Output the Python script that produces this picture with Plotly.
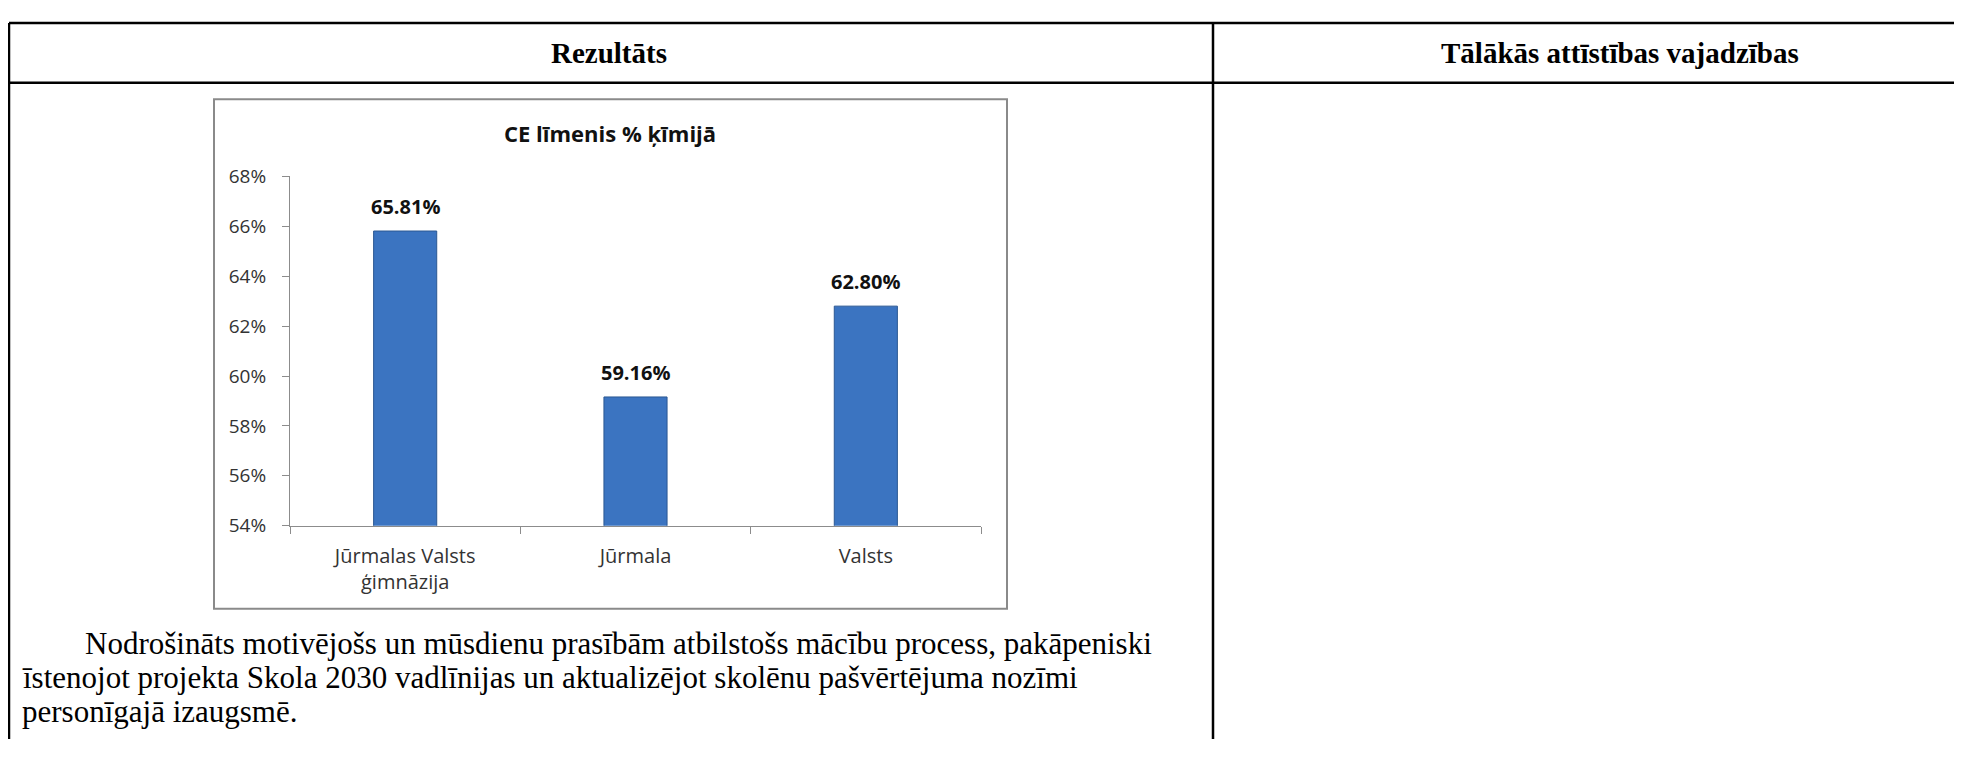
"Recreates the CE chemistry level chart inside the report table."

import plotly.graph_objects as go

# page is 1962x760; the body keeps its 8px margin, so the figure is 16px smaller
OFF = 8
W, H = 1962 - 2 * OFF, 760 - 2 * OFF

categories = ["Jūrmalas Valsts<br>ģimnāzija", "Jūrmala", "Valsts"]
values = [65.81, 59.16, 62.80]
y_ticks = [54, 56, 58, 60, 62, 64, 66, 68]
title = "CE līmenis % ķīmijā"
headers = ["Rezultāts", "Tālākās attīstības vajadzības"]
body_lines = [
    "Nodrošināts motivējošs un mūsdienu prasībām atbilstošs mācību process, pakāpeniski",
    "īstenojot projekta Skola 2030 vadlīnijas un aktualizējot skolēnu pašvērtējuma nozīmi",
    "personīgajā izaugsmē.",
]


def px(x):
    "page pixel x to paper."
    return (x - OFF) / W


def py(y):
    "page pixel y (from top) to paper."
    return 1 - (y - OFF) / H


fig = go.Figure()
fig.add_bar(
    x=categories,
    y=values,
    marker={"color": "#3b74c1", "line": {"color": "#2b5893", "width": 1}},
    width=0.274,
    hoverinfo="skip",
)

# value labels above each bar
for cat, val in zip(categories, values):
    fig.add_annotation(
        x=cat,
        y=val,
        xref="x",
        yref="y",
        text=f"<b>{val:.2f}%</b>",
        showarrow=False,
        yanchor="bottom",
        yshift=9,
        font={"family": "Open Sans", "size": 20, "color": "#111111"},
    )

line = {"color": "black", "width": 2.5}
shapes = [
    # table borders
    {"type": "line", "x0": px(9), "x1": 1, "y0": py(10), "y1": py(10), "line": line},
    {"type": "line", "x0": px(9), "x1": 1, "y0": py(72), "y1": py(72), "line": line},
    {"type": "line", "x0": px(9), "x1": px(9), "y0": py(10), "y1": 0, "line": line},
    {"type": "line", "x0": px(1213), "x1": px(1213), "y0": py(10), "y1": 0, "line": line},
    # chart frame
    {
        "type": "rect",
        "x0": px(214),
        "x1": px(1007),
        "y0": py(89),
        "y1": py(617),
        "line": {"color": "#8a8a8a", "width": 2},
    },
]
for s in shapes:
    s["xref"] = "paper"
    s["yref"] = "paper"
    s["layer"] = "below"

fig.add_annotation(
    x=px(610), y=py(124), xref="paper", yref="paper", text=f"<b>{title}</b>",
    showarrow=False, xanchor="center", yanchor="middle",
    font={"family": "Open Sans", "size": 22, "color": "#111111"},
)
for text, xc in zip(headers, [609, 1620]):
    fig.add_annotation(
        x=px(xc), y=py(41), xref="paper", yref="paper", text=f"<b>{text}</b>",
        showarrow=False, xanchor="center", yanchor="middle",
        font={"family": "Liberation Serif", "size": 29, "color": "black"},
    )
for text, x0, yc in zip(body_lines, [83, 20, 20], [653, 688, 723]):
    fig.add_annotation(
        x=px(x0), y=py(yc), xref="paper", yref="paper", text=text,
        showarrow=False, xanchor="left", yanchor="middle",
        font={"family": "Liberation Serif", "size": 31, "color": "black"},
    )

fig.update_layout(
    width=W,
    height=H,
    margin={"l": 0, "r": 0, "t": 0, "b": 0},
    paper_bgcolor="white",
    plot_bgcolor="white",
    showlegend=False,
    shapes=shapes,
    xaxis={
        "domain": [px(290), px(981)],
        "showline": True,
        "linecolor": "#8c8c8c",
        "linewidth": 1,
        "ticks": "outside",
        "ticklen": 7,
        "tickcolor": "#8c8c8c",
        "tickson": "boundaries",
        "ticklabelstandoff": 12,
        "tickfont": {"family": "Open Sans", "size": 20, "color": "#333333"},
        "showgrid": False,
    },
    yaxis={
        "domain": [py(531), py(169)],
        "range": [54, 68],
        "tickvals": y_ticks,
        "ticktext": [f"{t}%" for t in y_ticks],
        "showline": True,
        "linecolor": "#8c8c8c",
        "linewidth": 1,
        "ticks": "outside",
        "ticklen": 7,
        "tickcolor": "#8c8c8c",
        "ticklabelstandoff": 12,
        "tickfont": {"family": "Open Sans", "size": 19, "color": "#333333"},
        "showgrid": False,
        "zeroline": False,
    },
)

fig.write_html("out.html", config={"displayModeBar": False})
